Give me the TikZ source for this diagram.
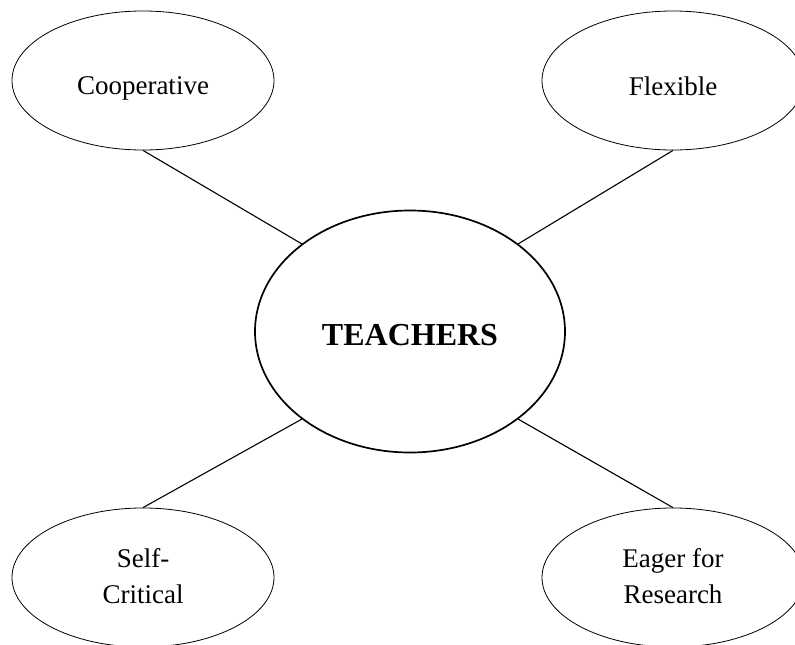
\documentclass[tikz,border=0pt]{standalone}
\usepackage{fontspec}
\setmainfont{Liberation Serif}
\usetikzlibrary{shapes.geometric}
\newcommand{\toprule}[1]{\rule{0pt}{#1}}
\newcommand{\botrule}[1]{\rule[-#1]{0pt}{#1}}
\begin{document}
\begin{tikzpicture}[x=1pt, y=-1pt,
        trait/.style={ellipse, draw, line width=0.8pt, inner sep=0pt,
            minimum width=262pt, minimum height=139pt, align=center,
            font=\fontsize{27}{36}\selectfont,
            execute at begin node=\toprule{33pt}, execute at end node=\botrule{4pt}},
        hub/.style={ellipse, draw, line width=1.7pt, inner sep=0pt,
            minimum width=310pt, minimum height=242pt,
            font=\fontsize{32}{38}\selectfont\bfseries,
            execute at begin node=\toprule{28pt}},
        link/.style={line width=1.1pt}]
                \useasboundingbox (0,0) rectangle (795,645);
                \node[hub] (teachers) at (410,331.5) {TEACHERS};
                \node[trait] (coop) at (143,80.5) {Cooperative};
                \node[trait] (flex) at (673,80.5) {Flexible};
                \node[trait] (self) at (143,577.5) {Self-\\Critical};
                \node[trait] (eager) at (673,577.5) {Eager for\\Research};
                \foreach \a/\b in {coop.south/teachers.141, flex.south/teachers.39,
                    self.north/teachers.219, eager.north/teachers.321}
                    {
                        \draw[link] (\a) -- (\b);
                    }
            \end{tikzpicture}
\end{document}
